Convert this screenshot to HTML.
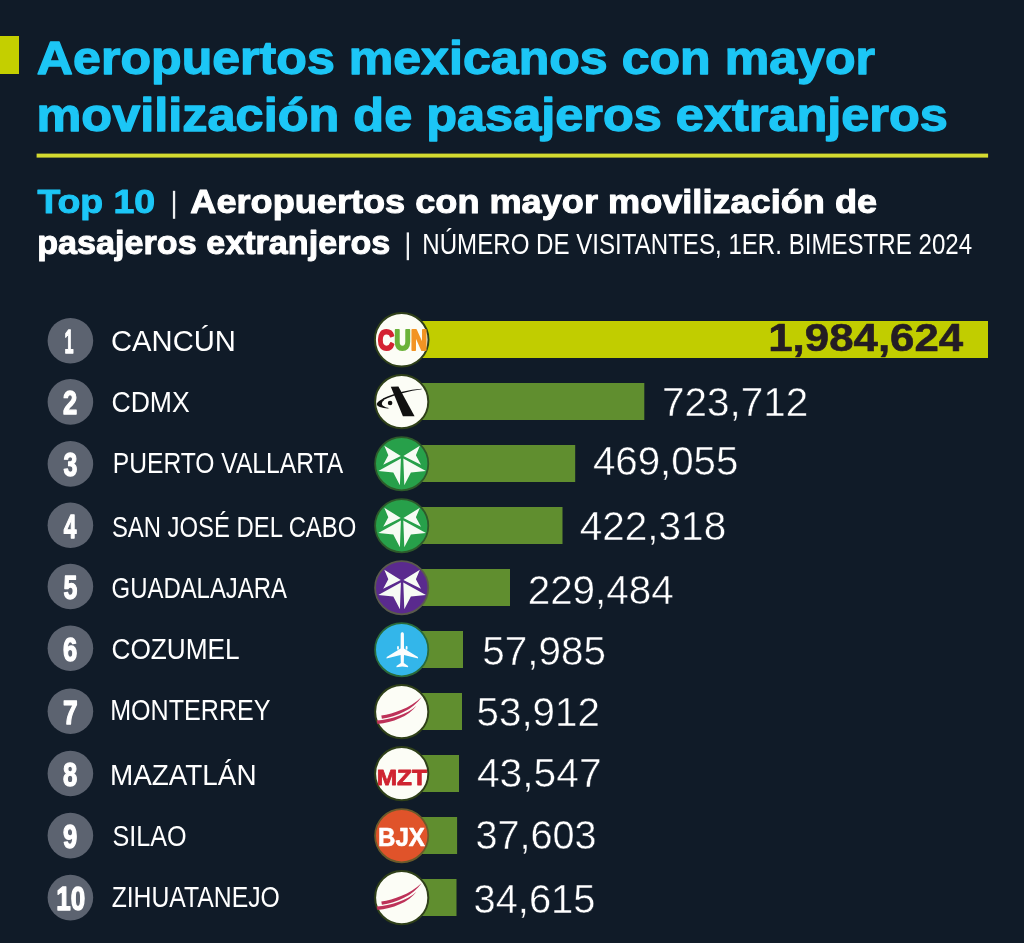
<!DOCTYPE html>
<html lang="es">
<head>
<meta charset="utf-8">
<title>Aeropuertos mexicanos con mayor movilización de pasajeros extranjeros</title>
<style>
html,body{margin:0;padding:0;background:#101b28;}
body{width:1024px;height:943px;overflow:hidden;}
svg{display:block;}
text{font-family:"Liberation Sans",sans-serif;white-space:pre;}
</style>
</head>
<body>
<svg width="1024" height="943" viewBox="0 0 1024 943">
<rect width="1024" height="943" fill="#101b28"/>
<rect x="0" y="36" width="19" height="38" fill="#c4cf00"/>
<rect x="36.6" y="153.6" width="951.5" height="4" fill="#d4da30"/>
<rect x="172.9" y="190.8" width="2.3" height="28" fill="#eef0f2"/>
<rect x="406.7" y="232.4" width="2.3" height="27.8" fill="#eef0f2"/>
<text id="t1" x="36.87" y="74.35" font-size="46.51" font-weight="bold" fill="#1cc6f6" textLength="838.19" lengthAdjust="spacingAndGlyphs" stroke="#1cc6f6" stroke-width="1.30" stroke-linejoin="round">Aeropuertos mexicanos con mayor</text>
<text id="t2" x="36.50" y="130.85" font-size="46.51" font-weight="bold" fill="#1cc6f6" textLength="911.40" lengthAdjust="spacingAndGlyphs" stroke="#1cc6f6" stroke-width="1.30" stroke-linejoin="round">movilización de pasajeros extranjeros</text>
<text id="s1a" x="37.40" y="212.50" font-size="33.42" font-weight="bold" fill="#1cc6f6" textLength="117.72" lengthAdjust="spacingAndGlyphs" stroke="#1cc6f6" stroke-width="1.00" stroke-linejoin="round">Top 10</text>
<text id="s1b" x="190.34" y="212.50" font-size="33.42" font-weight="bold" fill="#ffffff" textLength="686.76" lengthAdjust="spacingAndGlyphs" stroke="#ffffff" stroke-width="1.00" stroke-linejoin="round">Aeropuertos con mayor movilización de</text>
<text id="s2a" x="37.16" y="253.80" font-size="33.42" font-weight="bold" fill="#ffffff" textLength="353.22" lengthAdjust="spacingAndGlyphs" stroke="#ffffff" stroke-width="1.00" stroke-linejoin="round">pasajeros extranjeros</text>
<text id="s2b" x="422.32" y="254.30" font-size="30.15" font-weight="normal" fill="#ffffff" textLength="549.78" lengthAdjust="spacingAndGlyphs">NÚMERO DE VISITANTES, 1ER. BIMESTRE 2024</text>
<rect x="402" y="321" width="586.0" height="37" fill="#c1cd00"/>
<circle cx="70.4" cy="340.7" r="22.8" fill="#5c6370"/>
<text id="r0" x="64.44" y="353.25" font-size="33.42" font-weight="bold" fill="#ffffff" textLength="9.02" lengthAdjust="spacingAndGlyphs" stroke="#ffffff" stroke-width="1.30" stroke-linejoin="round">1</text>
<text id="n0" x="111.03" y="351.00" font-size="29.58" font-weight="normal" fill="#ffffff" textLength="124.85" lengthAdjust="spacingAndGlyphs">CANCÚN</text>
<circle cx="401.7" cy="339.7" r="26.8" fill="#fcfdf6" stroke="#2f4019" stroke-width="2"/>
<text id="cun" x="377.68" y="349.70" font-size="28.73" font-weight="bold" fill="#000" textLength="49.63" lengthAdjust="spacingAndGlyphs" stroke="#000" stroke-width="2.00" stroke-linejoin="round"><tspan fill="#d42332" stroke="#d42332">C</tspan><tspan fill="#6bb23a" stroke="#6bb23a">U</tspan><tspan fill="#f29424" stroke="#f29424">N</tspan></text>
<text id="v0" x="768.26" y="351.40" font-size="37.97" font-weight="bold" fill="#241c24" textLength="194.96" lengthAdjust="spacingAndGlyphs" stroke="#241c24" stroke-width="0.60" stroke-linejoin="round">1,984,624</text>
<rect x="402" y="383" width="242.3" height="37" fill="#608e2f"/>
<circle cx="70.4" cy="401.9" r="22.8" fill="#5c6370"/>
<text id="r1" x="63.05" y="414.45" font-size="33.42" font-weight="bold" fill="#ffffff" textLength="14.24" lengthAdjust="spacingAndGlyphs" stroke="#ffffff" stroke-width="1.30" stroke-linejoin="round">2</text>
<text id="n1" x="111.45" y="411.50" font-size="29.58" font-weight="normal" fill="#ffffff" textLength="78.33" lengthAdjust="spacingAndGlyphs">CDMX</text>
<circle cx="401.7" cy="401.7" r="26.6" fill="#fcfdf6" stroke="#2f4019" stroke-width="2"/>
<g transform="translate(401.7 401.7)" fill="#111">
<path d="M-10.9 -15L-3.3 -15.2L12.9 14.6L1.2 14.6Z"/>
<path d="M20 -13C8 -12.2 -7 -9 -18.9 -3.3L-18.2 -1.6C-7 -7.1 8 -10.9 20 -12.4Z"/>
<path d="M-18.4 -3.2C-26.2 0.6 -26.4 3.6 -21.8 5.3C-18.6 6.5 -15.4 6.9 -12.2 6.6C-16.4 5.6 -20.2 4.2 -19.8 1.6C-19.6 0.4 -18.8 -0.6 -17.6 -1.4Z"/>
<circle cx="-11.6" cy="1.3" r="2.3"/>
</g>
<text id="v1" x="661.95" y="416.35" font-size="40.82" font-weight="normal" fill="#ffffff" textLength="146.24" lengthAdjust="spacingAndGlyphs" stroke="#101b28" stroke-width="0.50">723,712</text>
<rect x="402" y="445" width="173.2" height="37" fill="#608e2f"/>
<circle cx="70.4" cy="463.9" r="22.8" fill="#5c6370"/>
<text id="r2" x="63.46" y="476.45" font-size="33.42" font-weight="bold" fill="#ffffff" textLength="13.81" lengthAdjust="spacingAndGlyphs" stroke="#ffffff" stroke-width="1.30" stroke-linejoin="round">3</text>
<text id="n2" x="112.78" y="472.80" font-size="29.58" font-weight="normal" fill="#ffffff" textLength="230.40" lengthAdjust="spacingAndGlyphs">PUERTO VALLARTA</text>
<circle cx="401.7" cy="463.7" r="26.6" fill="#27a04a" stroke="#2d5a2a" stroke-width="1.8"/>
<path transform="translate(402.1 463.4)" fill="#f6fbf4" d="M-17.8 -17.6L-1.3 -7.4L-18.9 1.3L-13.8 -8.1ZM17.8 -17.6L1.3 -7.4L18.9 1.3L13.8 -8.1ZM-23.8 7.7L-1.2 -5.0L-2.2 21.8L-8.8 9.1ZM23.8 7.7L1.2 -5.0L2.2 21.8L8.8 9.1Z"/>
<text id="v2" x="592.92" y="474.55" font-size="40.82" font-weight="normal" fill="#ffffff" textLength="145.46" lengthAdjust="spacingAndGlyphs" stroke="#101b28" stroke-width="0.50">469,055</text>
<rect x="402" y="507" width="160.5" height="37" fill="#608e2f"/>
<circle cx="70.4" cy="525.3" r="22.8" fill="#5c6370"/>
<text id="r3" x="63.85" y="537.85" font-size="33.42" font-weight="bold" fill="#ffffff" textLength="12.66" lengthAdjust="spacingAndGlyphs" stroke="#ffffff" stroke-width="1.30" stroke-linejoin="round">4</text>
<text id="n3" x="111.96" y="536.80" font-size="29.58" font-weight="normal" fill="#ffffff" textLength="244.28" lengthAdjust="spacingAndGlyphs">SAN JOSÉ DEL CABO</text>
<circle cx="401.7" cy="525.7" r="26.6" fill="#27a04a" stroke="#2d5a2a" stroke-width="1.8"/>
<path transform="translate(402.1 525.4)" fill="#f6fbf4" d="M-17.8 -17.6L-1.3 -7.4L-18.9 1.3L-13.8 -8.1ZM17.8 -17.6L1.3 -7.4L18.9 1.3L13.8 -8.1ZM-23.8 7.7L-1.2 -5.0L-2.2 21.8L-8.8 9.1ZM23.8 7.7L1.2 -5.0L2.2 21.8L8.8 9.1Z"/>
<text id="v3" x="579.72" y="540.25" font-size="40.82" font-weight="normal" fill="#ffffff" textLength="146.48" lengthAdjust="spacingAndGlyphs" stroke="#101b28" stroke-width="0.50">422,318</text>
<rect x="402" y="569" width="108.0" height="37" fill="#608e2f"/>
<circle cx="70.4" cy="586.5" r="22.8" fill="#5c6370"/>
<text id="r4" x="63.46" y="599.05" font-size="33.42" font-weight="bold" fill="#ffffff" textLength="13.81" lengthAdjust="spacingAndGlyphs" stroke="#ffffff" stroke-width="1.30" stroke-linejoin="round">5</text>
<text id="n4" x="111.58" y="598.10" font-size="29.58" font-weight="normal" fill="#ffffff" textLength="175.40" lengthAdjust="spacingAndGlyphs">GUADALAJARA</text>
<circle cx="401.7" cy="587.7" r="26.6" fill="#5a2a8e" stroke="#5a5a4c" stroke-width="1.8"/>
<path transform="translate(402.1 587.4)" fill="#f6fbf4" d="M-17.8 -17.6L-1.3 -7.4L-18.9 1.3L-13.8 -8.1ZM17.8 -17.6L1.3 -7.4L18.9 1.3L13.8 -8.1ZM-23.8 7.7L-1.2 -5.0L-2.2 21.8L-8.8 9.1ZM23.8 7.7L1.2 -5.0L2.2 21.8L8.8 9.1Z"/>
<text id="v4" x="527.66" y="603.85" font-size="40.82" font-weight="normal" fill="#ffffff" textLength="146.10" lengthAdjust="spacingAndGlyphs" stroke="#101b28" stroke-width="0.50">229,484</text>
<rect x="402" y="631" width="61.0" height="37" fill="#608e2f"/>
<circle cx="70.4" cy="648.2" r="22.8" fill="#5c6370"/>
<text id="r5" x="63.05" y="660.75" font-size="33.42" font-weight="bold" fill="#ffffff" textLength="14.24" lengthAdjust="spacingAndGlyphs" stroke="#ffffff" stroke-width="1.30" stroke-linejoin="round">6</text>
<text id="n5" x="111.47" y="658.60" font-size="29.58" font-weight="normal" fill="#ffffff" textLength="128.18" lengthAdjust="spacingAndGlyphs">COZUMEL</text>
<circle cx="401.7" cy="649.7" r="26.6" fill="#33b6ea" stroke="#2a6a3a" stroke-width="1.8"/>
<g transform="translate(402.3 649.7)" fill="#fbfdfd">
<path d="M-1.6 -15.6C-1.6 -18 1.6 -18 1.6 -15.6L1.7 -1.2L15.6 7.2L15.8 8.8L1.7 5.2L1.5 13.4L5.8 16.2L5.8 17.6L0 16.8L-5.8 17.6L-5.8 16.2L-1.5 13.4L-1.7 5.2L-15.8 8.8L-15.6 7.2L-1.7 -1.2Z"/>
<rect x="-5.2" y="-3.6" width="1.8" height="3.6" rx="0.8"/><rect x="3.4" y="-3.6" width="1.8" height="3.6" rx="0.8"/>
</g>
<text id="v5" x="482.29" y="664.85" font-size="40.82" font-weight="normal" fill="#ffffff" textLength="123.60" lengthAdjust="spacingAndGlyphs" stroke="#101b28" stroke-width="0.50">57,985</text>
<rect x="402" y="693" width="60.0" height="37" fill="#608e2f"/>
<circle cx="70.4" cy="711.2" r="22.8" fill="#5c6370"/>
<text id="r6" x="63.02" y="723.75" font-size="33.42" font-weight="bold" fill="#ffffff" textLength="14.70" lengthAdjust="spacingAndGlyphs" stroke="#ffffff" stroke-width="1.30" stroke-linejoin="round">7</text>
<text id="n6" x="110.14" y="720.40" font-size="29.58" font-weight="normal" fill="#ffffff" textLength="160.43" lengthAdjust="spacingAndGlyphs">MONTERREY</text>
<circle cx="401.7" cy="711.7" r="26.6" fill="#fcfdf6" stroke="#2f4019" stroke-width="2"/>
<g transform="translate(401.7 711.7)" fill="#bd3259">
<path d="M-20.4 3.8C-8 1.6 8 -3.2 20 -14.8C11 -1.6 -5 4.4 -19.8 7Z"/>
<path d="M-25 8.8C-11 7.4 5 3.2 14.8 -6C6.5 5 -9 10.6 -24.2 12.2Z"/>
</g>
<text id="v6" x="476.59" y="725.65" font-size="40.82" font-weight="normal" fill="#ffffff" textLength="123.29" lengthAdjust="spacingAndGlyphs" stroke="#101b28" stroke-width="0.50">53,912</text>
<rect x="402" y="755" width="57.0" height="37" fill="#608e2f"/>
<circle cx="70.4" cy="773.5" r="22.8" fill="#5c6370"/>
<text id="r7" x="63.05" y="786.05" font-size="33.42" font-weight="bold" fill="#ffffff" textLength="14.24" lengthAdjust="spacingAndGlyphs" stroke="#ffffff" stroke-width="1.30" stroke-linejoin="round">8</text>
<text id="n7" x="109.92" y="784.90" font-size="29.58" font-weight="normal" fill="#ffffff" textLength="146.65" lengthAdjust="spacingAndGlyphs">MAZATLÁN</text>
<circle cx="401.7" cy="773.7" r="26.6" fill="#fcfdf6" stroke="#2f4019" stroke-width="2"/>
<text id="mzt" x="376.67" y="785.00" font-size="22.76" font-weight="bold" fill="#cf2430" textLength="50.26" lengthAdjust="spacingAndGlyphs" stroke="#cf2430" stroke-width="0.80" stroke-linejoin="round">MZT</text>
<text id="v7" x="476.91" y="787.15" font-size="40.82" font-weight="normal" fill="#ffffff" textLength="124.69" lengthAdjust="spacingAndGlyphs" stroke="#101b28" stroke-width="0.50">43,547</text>
<rect x="402" y="817" width="55.1" height="37" fill="#608e2f"/>
<circle cx="70.4" cy="835.6" r="22.8" fill="#5c6370"/>
<text id="r8" x="63.05" y="848.15" font-size="33.42" font-weight="bold" fill="#ffffff" textLength="14.24" lengthAdjust="spacingAndGlyphs" stroke="#ffffff" stroke-width="1.30" stroke-linejoin="round">9</text>
<text id="n8" x="112.51" y="846.00" font-size="29.58" font-weight="normal" fill="#ffffff" textLength="74.08" lengthAdjust="spacingAndGlyphs">SILAO</text>
<circle cx="401.7" cy="835.7" r="26.6" fill="#e0532a" stroke="#6a5a2a" stroke-width="1.8"/>
<text id="bjx" x="377.99" y="845.80" font-size="26.45" font-weight="bold" fill="#ffffff" textLength="46.99" lengthAdjust="spacingAndGlyphs" stroke="#ffffff" stroke-width="0.60" stroke-linejoin="round">BJX</text>
<text id="v8" x="475.51" y="849.35" font-size="40.82" font-weight="normal" fill="#ffffff" textLength="121.14" lengthAdjust="spacingAndGlyphs" stroke="#101b28" stroke-width="0.50">37,603</text>
<rect x="402" y="879" width="54.5" height="37" fill="#608e2f"/>
<circle cx="70.4" cy="897.6" r="22.8" fill="#5c6370"/>
<text id="r9" x="56.22" y="910.15" font-size="33.42" font-weight="bold" fill="#ffffff" textLength="28.98" lengthAdjust="spacingAndGlyphs" stroke="#ffffff" stroke-width="1.30" stroke-linejoin="round">10</text>
<text id="n9" x="111.63" y="907.00" font-size="29.58" font-weight="normal" fill="#ffffff" textLength="168.15" lengthAdjust="spacingAndGlyphs">ZIHUATANEJO</text>
<circle cx="401.7" cy="897.7" r="26.6" fill="#fcfdf6" stroke="#2f4019" stroke-width="2"/>
<g transform="translate(401.7 897.7)" fill="#bd3259">
<path d="M-20.4 3.8C-8 1.6 8 -3.2 20 -14.8C11 -1.6 -5 4.4 -19.8 7Z"/>
<path d="M-25 8.8C-11 7.4 5 3.2 14.8 -6C6.5 5 -9 10.6 -24.2 12.2Z"/>
</g>
<text id="v9" x="473.50" y="912.85" font-size="40.82" font-weight="normal" fill="#ffffff" textLength="121.96" lengthAdjust="spacingAndGlyphs" stroke="#101b28" stroke-width="0.50">34,615</text>
</svg>
</body>
</html>
